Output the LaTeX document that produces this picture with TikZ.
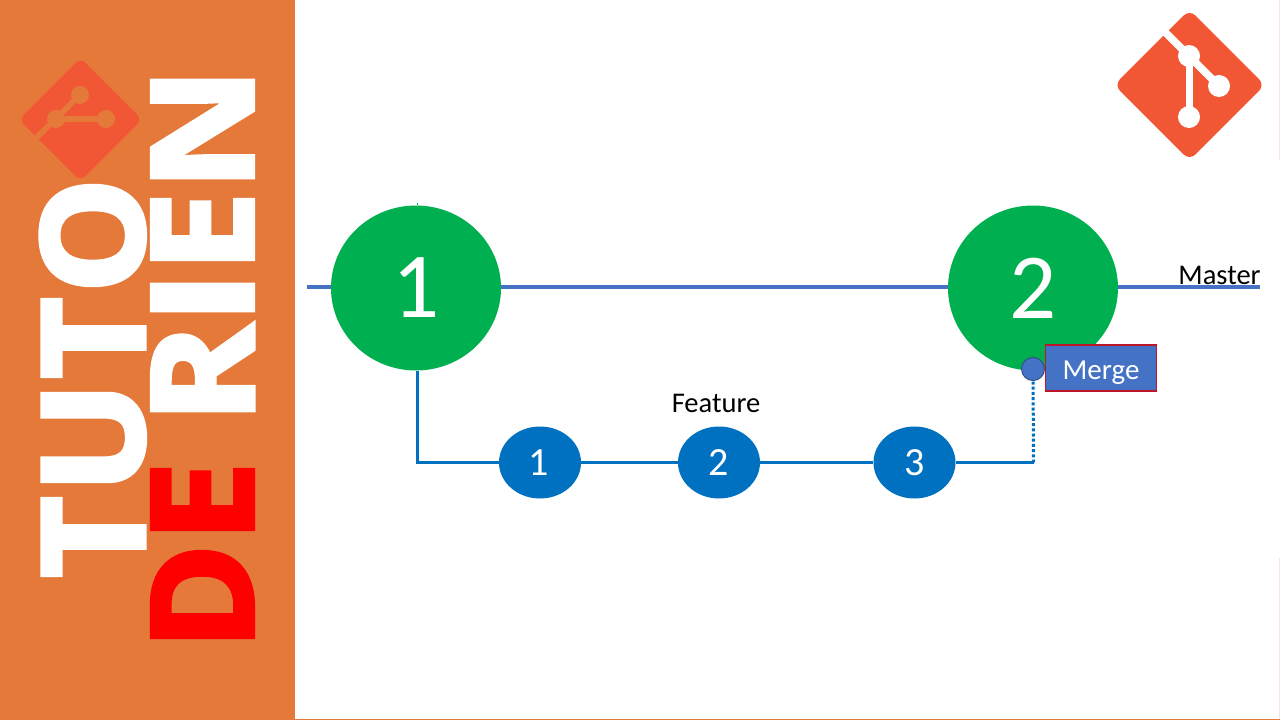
\documentclass[tikz,border=0pt]{standalone}
\usepackage{fontspec}
\usetikzlibrary{shapes.geometric}
\setmainfont{Carlito}
\newfontfamily\bannerfont[BoldFeatures={FakeBold=3}]{Open Sans}
\definecolor{bannerorange}{HTML}{E4793A}
\definecolor{gitred}{HTML}{F25735}
\definecolor{commitgreen}{HTML}{00B050}
\definecolor{masterblue}{HTML}{4472C4}
\definecolor{featureblue}{HTML}{0070C0}
\definecolor{mergeborder}{HTML}{C0142A}
\definecolor{edgepale}{HTML}{F8E4D8}
\tikzset{
  bigcommit/.style={ellipse,fill=commitgreen,minimum width=170pt,minimum height=165pt,inner sep=0pt,text=white,font=\fontsize{93}{93}\selectfont},
  smallcommit/.style={ellipse,fill=featureblue,minimum width=82pt,minimum height=72pt,inner sep=0pt,text=white,font=\fontsize{40}{40}\selectfont},
  masterline/.style={draw=masterblue,line width=4.2pt},
  featureline/.style={draw=featureblue,line width=2.3pt},
  mergeline/.style={draw=featureblue,line width=3pt,dash pattern=on 3pt off 2.2pt},
  textlabel/.style={inner sep=0pt,text=black,font=\fontsize{28.5}{28.5}\selectfont},
  mergebox/.style={draw=mergeborder,fill=masterblue,line width=1.2pt,minimum width=111pt,minimum height=46pt,inner sep=0pt,text=white,font=\fontsize{29}{29}\selectfont},
  mergedot/.style={circle,draw=masterblue!70!black,fill=masterblue,line width=1pt,minimum size=23pt,inner sep=0pt},
  bannerletter/.style={rotate=90,inner sep=0pt,anchor=center}
}
% ink-tight glyph, scaled to a given ink box
\newcommand{\inkglyph}[3]{\resizebox*{#1pt}{#2pt}{\bannerfont\bfseries\hbox{\kern-\XeTeXglyphbounds1 \XeTeXcharglyph`#3\relax #3\kern-\XeTeXglyphbounds3 \XeTeXcharglyph`#3\relax}}}
% \bletter{name}{colour}{xmin}{xmax}{ymin}{ymax}{char}
\newcommand{\bletter}[7]{%
  \pgfmathsetmacro{\bw}{#6-#5-4}\pgfmathsetmacro{\bh}{#4-#3-4}%
  \node[bannerletter,text=#2] (#1) at ({(#3+#4)/2},{(#5+#6)/2}) {\inkglyph{\bw}{\bh}{#7}};}
\begin{document}
\begin{tikzpicture}[x=1pt,y=-1pt]
\useasboundingbox (0,0) rectangle (1280,720);
\fill[white] (0,0) rectangle (1280,720);
\fill[bannerorange] (0,0) rectangle (295,720);
\fill[bannerorange] (295,719) rectangle (1280,720);
\fill[edgepale] (1279,0) rectangle (1280,160);
\fill[edgepale] (1279,558) rectangle (1280,719);
% banner letters
\bletter{t1}{white}{40.5}{146.5}{497}{577}{T}
\bletter{u1}{white}{40.5}{147}{392}{483}{U}
\bletter{t2}{white}{40.5}{146.5}{298}{378}{T}
\bletter{o1}{white}{38.5}{147}{184}{287}{O}
\bletter{d1}{red}{150}{255}{550}{639}{D}
\bletter{e1}{red}{150}{255}{468}{531}{E}
\bletter{r1}{white}{150}{255.5}{322}{412}{R}
\bletter{i1}{white}{150}{255}{283}{312}{I}
\bletter{e2}{white}{150}{255}{198}{261}{E}
\bletter{n1}{white}{150}{255}{79}{179}{N}
% small logo
\fill[gitred,rounded corners=7pt] (80.5,58) -- (142,119.5) -- (80.5,181) -- (19,119.5) -- cycle;
\draw[bannerorange,line width=5.5pt] (80,95) -- (36,138);
\draw[bannerorange,line width=5.5pt] (56,119) -- (106,119);
\fill[bannerorange] (80,95) circle (9) (106,119) circle (9) (56,119) circle (9);
% large logo
\fill[gitred,rounded corners=8pt] (1189.5,9.7) -- (1264.8,85) -- (1189.5,160.3) -- (1114.2,85) -- cycle;
\draw[white,line width=7.5pt] (1160,27) -- (1219,86);
\draw[white,line width=7pt] (1189,56) -- (1189,117);
\fill[white] (1189,56) circle (11) (1219,86) circle (11) (1189,117) circle (11);
% nodes
\coordinate (mstart) at (307,287);
\coordinate (mend) at (1260,287);
\coordinate (fcorner1) at (417.5,462.5);
\coordinate (fcorner2) at (1033.5,462.5);
\node[bigcommit] (c1) at (416,288) {\raisebox{-5pt}{1}};
\node[bigcommit] (c2) at (1033,288) {\raisebox{-5pt}{2}};
\node[smallcommit] (f1) at (540,462.5) {\raisebox{-1.5pt}{\hspace*{-2pt}1}};
\node[smallcommit] (f2) at (719,462.5) {\raisebox{-1.5pt}{2}};
\node[smallcommit] (f3) at (914.5,462.5) {\raisebox{-1.5pt}{3}};
\node[mergedot] (md) at (1033,369) {};
\node[mergebox] (mb) at (1101,368) {\raisebox{-11pt}[0pt][0pt]{Merge}};
% connectors
\draw[masterline] (mstart) -- (mstart -| c1.west);
\draw[masterline] (mstart -| c1.east) -- (mstart -| c2.west);
\draw[masterline] (mstart -| c2.east) -- (mend);
\draw[commitgreen,line width=1pt] (c1.north -| fcorner1) -- ++(0,-2);
\draw[featureline] (c1.south -| fcorner1) -- (fcorner1) -- (f1);
\draw[featureline] (f1) -- (f2);
\draw[featureline] (f2) -- (f3);
\draw[featureline] (f3) -- (fcorner2);
\draw[mergeline] (fcorner2) -- (md);
\node[textlabel] (master) at (1219.5,275) {Master};
\node[textlabel] (feature) at (716,403) {Feature};
\end{tikzpicture}
\end{document}
